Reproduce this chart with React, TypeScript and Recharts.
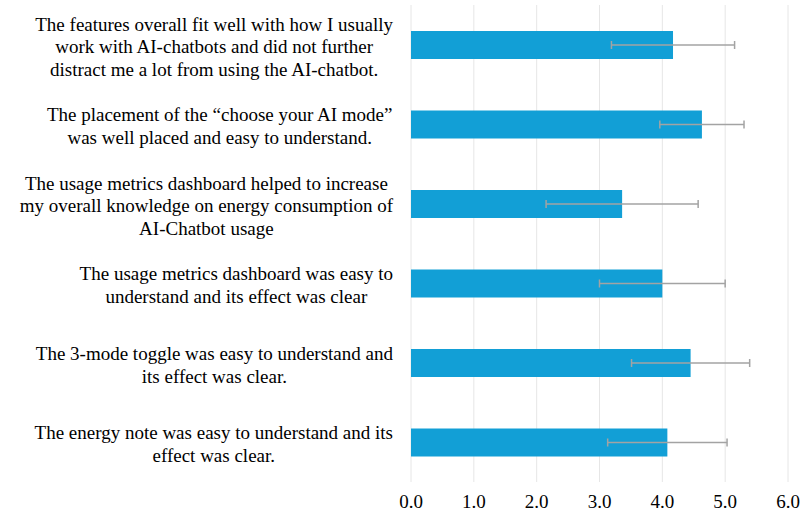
import React from 'react';
import { BarChart, Bar, XAxis, YAxis, CartesianGrid, ErrorBar } from 'recharts';

const statements: string[][] = [
  ['The features overall fit well with how I usually', 'work with AI-chatbots and did not further', 'distract me a lot from using the AI-chatbot.'],
  ['The placement of the \u201cchoose your AI mode\u201d', 'was well placed and easy to understand.'],
  ['The usage metrics dashboard helped to increase', 'my overall knowledge on energy consumption of', 'AI-Chatbot usage'],
  ['The usage metrics dashboard was easy to', 'understand and its effect was clear'],
  ['The 3-mode toggle was easy to understand and', 'its effect was clear.'],
  ['The energy note was easy to understand and its', 'effect was clear.'],
];
const means: number[] = [4.17, 4.63, 3.36, 4.0, 4.45, 4.08];
const sds: number[] = [0.98, 0.67, 1.21, 1.0, 0.94, 0.95];
const xTicks: number[] = [0, 1, 2, 3, 4, 5, 6];

const data = statements.map((lines, i) => ({
  label: lines.join('\n'),
  mean: means[i],
  sd: sds[i],
}));

const FONT = 'Liberation Serif';
const FONT_SIZE = 19;
const LINE_H = 22.8;

let ctx: CanvasRenderingContext2D | null = null;
function measure(s: string): number {
  if (!ctx) {
    const c = document.createElement('canvas');
    ctx = c.getContext('2d');
  }
  if (!ctx) return s.length * FONT_SIZE * 0.42;
  ctx.font = `${FONT_SIZE}px "Liberation Serif", serif`;
  return ctx.measureText(s).width;
}

const CategoryTick = (props: any) => {
  const { x, y, payload } = props;
  const lines: string[] = String(payload.value).split('\n');
  const maxW = Math.max(...lines.map(measure));
  const cx = x - maxW / 2;
  const startY = y - ((lines.length - 1) * LINE_H) / 2;
  return (
    <text
      x={cx}
      y={startY}
      textAnchor="middle"
      style={{ fontFamily: FONT, fontSize: FONT_SIZE }}
      fill="#000"
    >
      {lines.map((l, i) => (
        <tspan key={i} x={cx} y={startY + i * LINE_H} dy="0.45em">
          {l}
        </tspan>
      ))}
    </text>
  );
};

const NumTick = (props: any) => {
  const { x, y, payload } = props;
  return (
    <text x={x} y={y} dy="0.71em" textAnchor="middle" style={{ fontFamily: FONT, fontSize: FONT_SIZE }} fill="#000">
      {Number(payload.value).toFixed(1)}
    </text>
  );
};

export default function App() {
  return (
    <div style={{ width: 802, height: 513, fontFamily: FONT }}>
      <style>{'body{margin:0;background:#fff}'}</style>
      <BarChart
        width={802}
        height={513}
        data={data}
        layout="vertical"
        margin={{ top: 5, right: 14, bottom: 0, left: 0 }}
        barCategoryGap="32%"
      >
        <CartesianGrid horizontal={false} vertical={true} stroke="#e6e6e6" strokeWidth={1} />
        <XAxis
          type="number"
          domain={[0, 6]}
          ticks={xTicks}
          axisLine={false}
          tickLine={false}
          tickSize={0}
          tickMargin={13}
          height={31}
          tick={<NumTick />}
          interval={0}
        />
        <YAxis
          type="category"
          dataKey="label"
          width={411}
          axisLine={false}
          tickLine={false}
          tickSize={0}
          tickMargin={18}
          interval={0}
          tick={<CategoryTick />}
        />
        <Bar dataKey="mean" fill="#129fd6" barSize={28} isAnimationActive={false}>
          <ErrorBar dataKey="sd" direction="x" stroke="#a3a3a3" strokeWidth={1.5} width={4} />
        </Bar>
      </BarChart>
    </div>
  );
}
